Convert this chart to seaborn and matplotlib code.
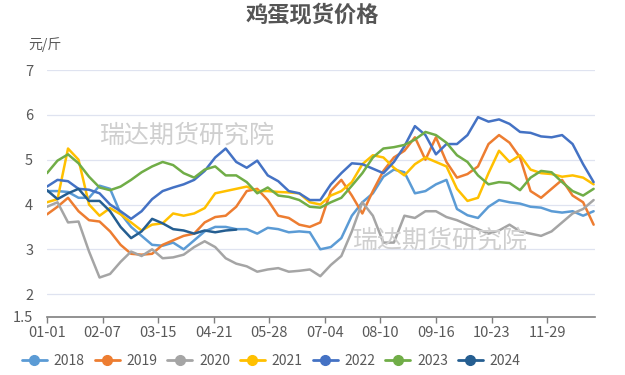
import matplotlib
matplotlib.use("Agg")
import matplotlib.pyplot as plt
from matplotlib.lines import Line2D
import numpy as np
import pandas as pd
import seaborn as sns

# weekly readings, day 0 = 01-01
days = list(range(0, 365, 7))

y2018 = [4.3, 4.3, 4.28, 4.15, 4.15, 4.42, 4.35, 3.8, 3.5, 3.3,
         3.1, 3.08, 3.15, 3.0, 3.2, 3.4, 3.5, 3.5, 3.45, 3.45,
         3.35, 3.48, 3.45, 3.38, 3.4, 3.38, 3.0, 3.05, 3.25, 3.75,
         4.05, 4.25, 4.62, 4.78, 4.72, 4.25, 4.3, 4.45, 4.55, 3.9,
         3.76, 3.7, 3.95, 4.1, 4.05, 4.02, 3.95, 3.93, 3.85, 3.82,
         3.85, 3.75, 3.85]
y2019 = [3.78, 3.95, 4.15, 3.85, 3.65, 3.62, 3.4, 3.1, 2.9, 2.88,
         2.9, 3.1, 3.2, 3.3, 3.35, 3.6, 3.72, 3.75, 3.95, 4.3,
         4.35, 4.1, 3.75, 3.7, 3.55, 3.5, 3.6, 4.3, 4.55, 4.2,
         3.8, 4.3, 4.75, 5.05, 5.2, 5.5, 5.0, 5.5, 4.95, 4.6,
         4.68, 4.85, 5.35, 5.55, 5.38, 5.05, 4.3, 4.15, 4.35, 4.55,
         4.2, 4.05, 3.55]
y2020 = [3.95, 4.05, 3.6, 3.62, 2.95, 2.37, 2.45, 2.72, 2.95, 2.85,
         3.0, 2.8, 2.82, 2.88, 3.05, 3.18, 3.05, 2.8, 2.68, 2.62,
         2.5, 2.55, 2.58, 2.5, 2.52, 2.55, 2.4, 2.65, 2.85, 3.4,
         4.05, 3.75, 3.15, 3.15, 3.75, 3.7, 3.85, 3.85, 3.72, 3.65,
         3.55, 3.45, 3.35, 3.42, 3.55, 3.4, 3.35, 3.3, 3.4, 3.6,
         3.8, 3.9, 4.1]
y2021 = [4.05, 4.12, 5.25, 5.0, 4.0, 3.75, 3.92, 3.78, 3.6, 3.42,
         3.55, 3.58, 3.8, 3.75, 3.8, 3.92, 4.25, 4.3, 4.35, 4.4,
         4.3, 4.3, 4.28, 4.27, 4.25, 4.05, 4.0, 4.2, 4.3, 4.5,
         4.9, 5.1, 5.05, 4.82, 4.65, 4.9, 5.05, 4.95, 4.85, 4.35,
         4.08, 4.15, 4.7, 5.2, 4.95, 5.1, 4.78, 4.7, 4.68, 4.62,
         4.65, 4.6, 4.45]
y2022 = [4.4, 4.55, 4.52, 4.35, 4.33, 4.25, 4.0, 3.85, 3.68, 3.85,
         4.12, 4.3, 4.38, 4.45, 4.55, 4.75, 5.05, 5.25, 4.95, 4.82,
         4.98, 4.65, 4.52, 4.3, 4.25, 4.1, 4.1, 4.45, 4.7, 4.92,
         4.9, 4.8, 4.7, 4.95, 5.3, 5.75, 5.55, 5.12, 5.35, 5.35,
         5.55, 5.95, 5.85, 5.9, 5.8, 5.62, 5.6, 5.52, 5.5, 5.55,
         5.35, 4.9, 4.5]
y2023 = [4.7, 4.98, 5.12, 4.92, 4.62, 4.38, 4.32, 4.4, 4.55, 4.72,
         4.85, 4.95, 4.88, 4.7, 4.6, 4.78, 4.85, 4.65, 4.65, 4.5,
         4.25, 4.38, 4.2, 4.17, 4.1, 3.95, 3.93, 4.05, 4.15, 4.42,
         4.7, 5.05, 5.25, 5.28, 5.33, 5.45, 5.62, 5.55, 5.38, 5.1,
         4.95, 4.65, 4.45, 4.5, 4.48, 4.32, 4.6, 4.75, 4.72, 4.5,
         4.3, 4.2, 4.35]
y2024 = [4.32, 4.12, 4.25, 4.35, 4.08, 4.08, 3.85, 3.5, 3.25, 3.4,
         3.68, 3.58, 3.45, 3.42, 3.35, 3.42, 3.38, 3.42, 3.44]

years = ["2018", "2019", "2020", "2021", "2022", "2023", "2024"]
colors = ["#5B9BD5", "#ED7D31", "#A5A5A5", "#FFC000", "#4472C4", "#70AD47", "#255E91"]
tick_days = [0, 37, 74, 111, 148, 185, 222, 259, 296, 333]
tick_labels = ["01-01", "02-07", "03-15", "04-21", "05-28", "07-04",
               "08-10", "09-16", "10-23", "11-29"]

series = [y2018, y2019, y2020, y2021, y2022, y2023, y2024]
frames = []
for yr, vals in zip(years, series):
    frames.append(pd.DataFrame({"day": days[:len(vals)], "price": vals, "year": yr}))
df = pd.concat(frames, ignore_index=True)

sns.set_theme(style="white")
plt.rcParams["font.family"] = ["Noto Sans CJK SC", "DejaVu Sans"]

fig = plt.figure(figsize=(6.25, 3.75), dpi=100)
ax = fig.add_axes([0.0752, 0.156, 0.877, 0.657])

sns.lineplot(data=df, x="day", y="price", hue="year", palette=colors,
             linewidth=1.8, legend=False, ax=ax)

txt = "#595959"
ax.set_xlim(0, 365)
ax.set_ylim(1.5, 7)
ax.set_yticks([1.5, 2, 3, 4, 5, 6, 7])
ax.set_yticklabels(["1.5", "2", "3", "4", "5", "6", "7"])
ax.set_xticks(tick_days)
ax.set_xticklabels(tick_labels)
ax.set_xlabel("")
ax.set_ylabel("")
ax.tick_params(axis="y", length=0, labelsize=10.5, labelcolor=txt, pad=10)
ax.tick_params(axis="x", length=4, width=1, color="#7f7f7f", labelsize=10.5,
               labelcolor=txt, pad=3, bottom=True)
for s in ["top", "right", "left"]:
    ax.spines[s].set_visible(False)
ax.spines["bottom"].set_color("#7f7f7f")
ax.spines["bottom"].set_linewidth(1.2)
for v in [2, 3, 4, 5, 6, 7]:
    ax.axhline(v, color="#dfe3f0", linewidth=0.9, zorder=0)

fig.text(312 / 625, 1 - 15 / 375, "鸡蛋现货价格", ha="center", va="center",
         fontsize=16, fontweight="bold", color="#555555")
fig.text(45 / 625, 1 - 45 / 375, "元/斤", ha="center", va="center",
         fontsize=10, color=txt)

wm = "#cfcfcf"
fig.text(187 / 625, 1 - 136 / 375, "瑞达期货研究院", ha="center", va="center",
         fontsize=18, color=wm, zorder=5)
fig.text(440 / 625, 1 - 241 / 375, "瑞达期货研究院", ha="center", va="center",
         fontsize=18, color=wm, zorder=5)

handles = [Line2D([0], [0], color=c, linewidth=2, marker="o", markersize=7)
           for c in colors]
fig.legend(handles, years, loc="center left", bbox_to_anchor=(0.015, 1 - 361 / 375),
           ncol=7, frameon=False, fontsize=10, handlelength=1.8,
           columnspacing=0.7, handletextpad=0.5, labelcolor=txt)

fig.savefig("out.png", dpi=100)
